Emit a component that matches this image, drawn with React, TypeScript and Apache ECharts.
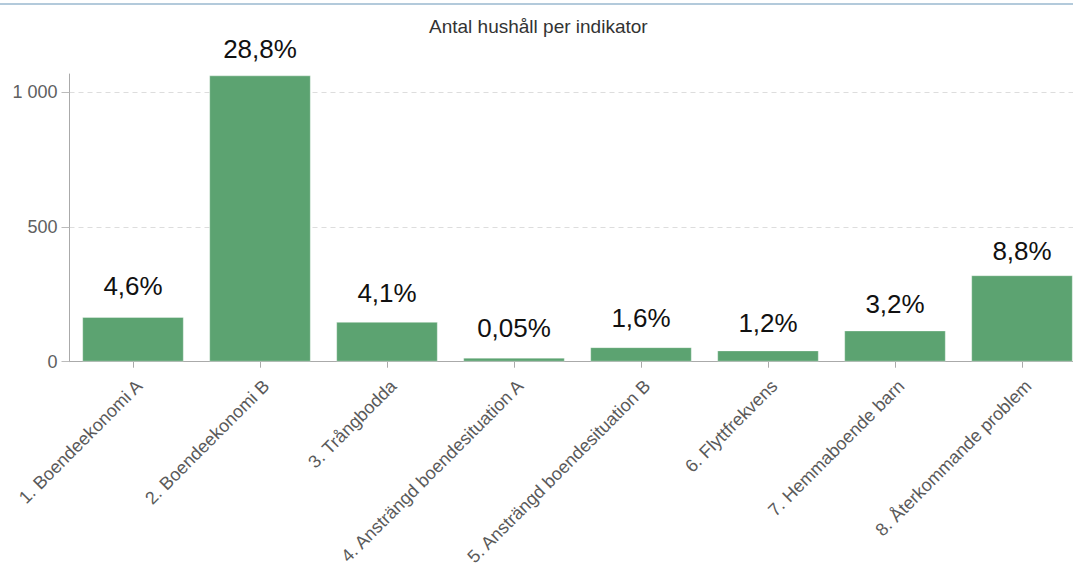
import React, { useEffect, useRef } from "react";
import * as echarts from "echarts";

const titleText = "Antal hushåll per indikator";
const categories = [
  "1. Boendeekonomi A",
  "2. Boendeekonomi B",
  "3. Trångbodda",
  "4. Ansträngd boendesituation A",
  "5. Ansträngd boendesituation B",
  "6. Flyttfrekvens",
  "7. Hemmaboende barn",
  "8. Återkommande problem",
];
const households = [166, 1063, 148, 15, 54, 42, 116, 321];
const pctLabels = ["4,6%", "28,8%", "4,1%", "0,05%", "1,6%", "1,2%", "3,2%", "8,8%"];
const yTicks = [0, 500, 1000];

// label gap above each bar (style only)
const labelGaps = [18, 13, 16, 17, 16, 14.5, 13, 11.5];

const FONT = "'Liberation Sans', Arial, sans-serif";

export default function App() {
  const ref = useRef<HTMLDivElement>(null);
  useEffect(() => {
    if (!ref.current) return;
    const chart = echarts.init(ref.current, undefined, { renderer: "svg" });
    chart.setOption({
      animation: false,
      backgroundColor: "#ffffff",
      title: {
        text: titleText,
        left: 429,
        top: 17,
        padding: 0,
        textStyle: { fontFamily: FONT, fontSize: 19, fontWeight: "normal", color: "#333333" },
      },
      graphic: [
        { type: "rect", left: 0, top: 3, shape: { width: 1073, height: 2 }, style: { fill: "#b3cadb" }, silent: true },
      ],
      grid: {
        left: 69.5,
        top: 74,
        right: -12.5,
        bottom: 211.3,
        containLabel: false,
        outerBoundsMode: "none",
      },
      xAxis: {
        type: "category",
        data: categories,
        boundaryGap: true,
        axisLine: { show: true, lineStyle: { color: "#aaaaaa", width: 1 } },
        axisTick: { show: true, alignWithLabel: true, length: 6, lineStyle: { color: "#aaaaaa" } },
        axisLabel: {
          rotate: 45,
          interval: 0,
          margin: 15,
          verticalAlign: "top",
          fontFamily: FONT,
          fontSize: 18,
          color: "#5a5a5a",
        },
        splitLine: { show: false },
      },
      yAxis: {
        type: "value",
        min: 0,
        max: 1068,
        interval: 500,
        axisLine: { show: true, lineStyle: { color: "#aaaaaa", width: 1 } },
        axisTick: { show: true, length: 8, customValues: yTicks, lineStyle: { color: "#bbbbbb" } },
        axisLabel: {
          customValues: yTicks,
          margin: 12,
          fontFamily: FONT,
          fontSize: 18,
          color: "#606060",
          formatter: (v: number) => String(v).replace(/\B(?=(\d{3})+(?!\d))/g, " "),
        },
        splitLine: {
          show: true,
          showMinLine: false,
          lineStyle: { color: "#dddddd", type: [5, 4], width: 1 },
        },
      },
      series: [
        {
          type: "bar",
          data: households.map((v, i) => ({ value: v, label: { distance: labelGaps[i] } })),
          barCategoryGap: "20%",
          itemStyle: { color: "#5ca371", borderColor: "rgba(255,255,255,0.35)", borderWidth: 1 },
          label: {
            show: true,
            position: "top",
            distance: 18,
            fontFamily: FONT,
            fontSize: 26,
            color: "#111111",
            formatter: (p: any) => pctLabels[p.dataIndex],
          },
        },
      ],
    });
    return () => chart.dispose();
  }, []);
  return (
    <div
      ref={ref}
      style={{ position: "absolute", left: 0, top: 0, width: 1073, height: 573, overflow: "hidden" }}
    />
  );
}
